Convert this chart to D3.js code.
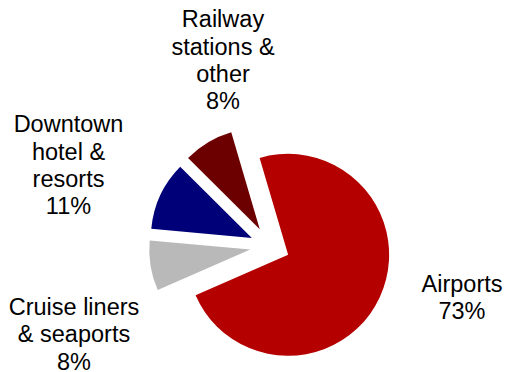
<!DOCTYPE html>
<html>
<head>
<meta charset="utf-8">
<script src="https://cdn.jsdelivr.net/npm/d3@7"></script>
<style>
  html, body { margin: 0; padding: 0; background: #fff; }
  svg { display: block; }
  text { font-family: "Liberation Sans", Arial, sans-serif; fill: #000; }
</style>
</head>
<body>
<svg id="chart" width="506" height="372"></svg>
<script>
// Share of sales by channel
const categories = ["Airports", "Cruise liners & seaports", "Downtown hotel & resorts", "Railway stations & other"];
const values = [73, 8, 11, 8];
const labelLines = [
  ["Airports"],
  ["Cruise liners", "& seaports"],
  ["Downtown", "hotel &", "resorts"],
  ["Railway", "stations &", "other"]
];
const colors = ["#b50000", "#b9b9b9", "#000078", "#6c0000"];

// Layout
const width = 506, height = 372;
const cx = 270, cy = 246.4;
const radius = 101;
const explode = 20;
const startDeg = -16.4;
const fontSize = 23.5;
const lineHeight = 27.3;
// label block anchors (centre x, first baseline), relative to the pie centre
const labelAnchors = [
  [192, 45.3],
  [-196, 68.6],
  [-201.5, -114.1],
  [-47, -219.1]
];

const svg = d3.select("#chart");
const g = svg.append("g").attr("transform", `translate(${cx},${cy})`);

const toRad = d => d * Math.PI / 180;
const pie = d3.pie().sort(null).value(d => d.value)
  .startAngle(toRad(startDeg)).endAngle(toRad(startDeg + 360));
const arc = d3.arc().innerRadius(0).outerRadius(radius);

const data = categories.map((c, i) => ({ name: c, value: values[i], lines: labelLines[i], color: colors[i] }));
const arcs = pie(data);

// every slice is pulled out along its mid-angle
g.selectAll("path.slice")
  .data(arcs)
  .join("path")
  .attr("class", "slice")
  .attr("d", arc)
  .attr("fill", d => d.data.color)
  .attr("transform", d => {
    const mid = (d.startAngle + d.endAngle) / 2;
    return `translate(${explode * Math.sin(mid)},${-explode * Math.cos(mid)})`;
  });

// category name + percentage
const labels = g.selectAll("text.label")
  .data(arcs)
  .join("text")
  .attr("class", "label")
  .attr("text-anchor", "middle")
  .attr("font-size", fontSize)
  .attr("transform", (d, i) => `translate(${labelAnchors[i][0]},${labelAnchors[i][1]})`);

labels.each(function(d) {
  const t = d3.select(this);
  const lines = d.data.lines.concat([d.data.value + "%"]);
  lines.forEach((ln, k) => {
    t.append("tspan").attr("x", 0).attr("y", k * lineHeight).text(ln);
  });
});
</script>
</body>
</html>
